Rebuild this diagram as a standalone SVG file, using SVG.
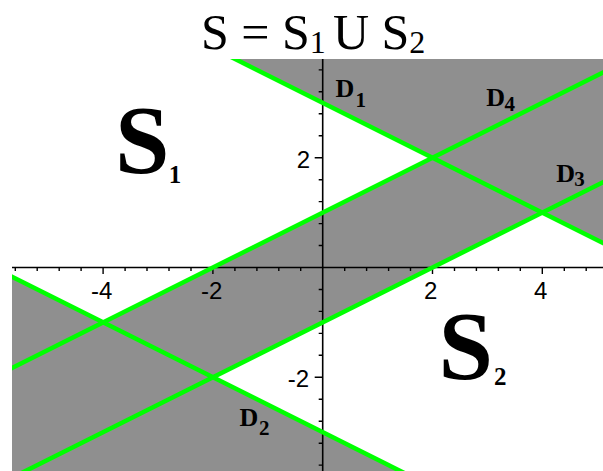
<svg xmlns="http://www.w3.org/2000/svg" width="603" height="471" viewBox="0 0 603 471">
<style>
.ttl{font-family:"Liberation Serif","Times New Roman",serif;font-size:50px;fill:#000}
.tsub{font-size:32px}
.tick{font-family:"Liberation Sans",Arial,sans-serif;font-size:24px;fill:#000}
.dl{font-family:"Liberation Serif","Times New Roman",serif;font-weight:bold;font-size:26px;fill:#000}
.dsub{font-size:21px}
.big{font-family:"Liberation Serif","Times New Roman",serif;font-weight:bold;font-size:98px;fill:#000}
.bsub{font-size:25px}
.axis{stroke:#000;stroke-width:1.6;fill:none}
.ticks{stroke:#000;stroke-width:1.4;fill:none}
.gline{stroke:#00ff00;stroke-width:4.5;fill:none}
</style>
<defs>
<clipPath id="plotclip"><rect x="12" y="59" width="591" height="412"/></clipPath>
</defs>
<rect width="603" height="471" fill="#fff"/>
<g id="title">
<text class="ttl" font-family="'Liberation Serif', serif" font-weight="normal" x="201" y="49.3">S = S<tspan class="tsub" dy="3.7">1</tspan><tspan dy="-3.7"> </tspan><tspan dx="-5.4">U</tspan> S<tspan class="tsub" dy="3.7">2</tspan></text>
</g>
<g id="regions">
<rect x="12" y="59" width="591" height="412" fill="#8f8f8f"/>
<polygon id="S1-region" points="12,59 235.1,59 432.5,157.7 103.1,322.4 12,276.8" fill="#fff"/>
<polygon id="S2-region" points="603,243 603,471 400.3,471 212.9,377.3 542.3,212.6" fill="#fff"/>
</g>
<g id="axes">
<path class="axis" d="M12 267.5H603M322.7 59V471"/>
<path class="ticks" d="M15.3 267.5v3.5M37.2 267.5v3.5M59.2 267.5v3.5M81.1 267.5v3.5M103.1 267.5v6.5M125.1 267.5v3.5M147 267.5v3.5M169 267.5v3.5M191 267.5v3.5M212.9 267.5v6.5M234.9 267.5v3.5M256.9 267.5v3.5M278.8 267.5v3.5M300.7 267.5v3.5M344.7 267.5v3.5M366.6 267.5v3.5M388.6 267.5v3.5M410.5 267.5v3.5M432.5 267.5v6.5M454.5 267.5v3.5M476.4 267.5v3.5M498.4 267.5v3.5M520.3 267.5v3.5M542.3 267.5v6.5M564.3 267.5v3.5M586.2 267.5v3.5"/>
<path class="ticks" d="M322.7 69.9h-4M322.7 91.8h-4M322.7 113.8h-4M322.7 135.7h-4M322.7 157.7h-8M322.7 179.7h-4M322.7 201.6h-4M322.7 223.6h-4M322.7 245.5h-4M322.7 289.5h-4M322.7 311.4h-4M322.7 333.4h-4M322.7 355.3h-4M322.7 377.3h-8M322.7 399.3h-4M322.7 421.2h-4M322.7 443.2h-4M322.7 465.1h-4"/>
<text class="tick" x="101.7" y="298.5" text-anchor="middle">-4</text>
<text class="tick" x="211.7" y="298.5" text-anchor="middle">-2</text>
<text class="tick" x="430.8" y="298.5" text-anchor="middle">2</text>
<text class="tick" x="540.7" y="298.5" text-anchor="middle">4</text>
<text class="tick" x="310" y="168" text-anchor="end">2</text>
<text class="tick" x="309" y="387" text-anchor="end">-2</text>
</g>
<g id="connectors" clip-path="url(#plotclip)">
<line id="D1-line" class="gline" x1="212.9" y1="47.9" x2="652.1" y2="267.5"/>
<line id="D4-line" class="gline" x1="-6.7" y1="377.3" x2="652.1" y2="47.9"/>
<line id="D3-line" class="gline" x1="-6.7" y1="487.1" x2="652.1" y2="157.7"/>
<line id="D2-line" class="gline" x1="-6.7" y1="267.5" x2="432.5" y2="487.1"/>
</g>
<g id="D1"><text class="dl"><tspan x="335.6" y="97.3">D</tspan><tspan class="dsub" x="355.5" y="107.3">1</tspan></text></g>
<g id="D4"><text class="dl"><tspan x="486.3" y="105.7">D</tspan><tspan class="dsub" x="504.5" y="110.7">4</tspan></text></g>
<g id="D3"><text class="dl"><tspan x="556.3" y="181.7">D</tspan><tspan class="dsub" x="574.2" y="186.3">3</tspan></text></g>
<g id="D2"><text class="dl"><tspan x="239.6" y="426">D</tspan><tspan class="dsub" x="259" y="435.3">2</tspan></text></g>
<g id="S1"><text class="big"><tspan x="115" y="172.6">S</tspan><tspan class="bsub" x="168.7" y="183.3">1</tspan></text></g>
<g id="S2"><text class="big"><tspan x="438.5" y="378.6">S</tspan><tspan class="bsub" x="493.9" y="385">2</tspan></text></g>
</svg>
